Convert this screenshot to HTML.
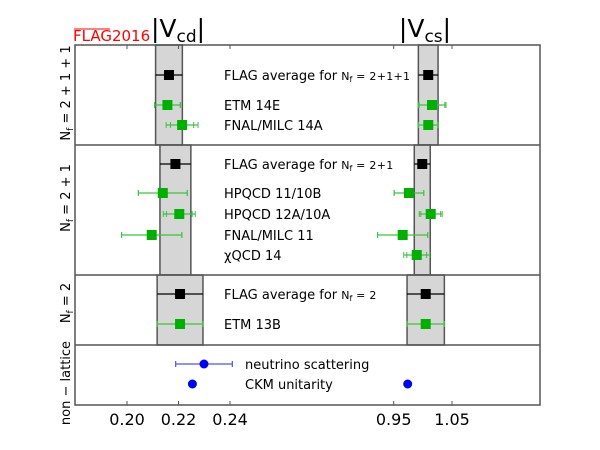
<!DOCTYPE html>
<html><head><meta charset="utf-8"><style>
html,body{margin:0;padding:0;background:#fff}
svg{display:block;font-family:"DejaVu Sans","Liberation Sans",sans-serif}
</style></head><body>
<svg id="chart" width="600" height="450" viewBox="0 0 600 450">
<rect x="0" y="0" width="600" height="450" fill="#fff"/>
<g id="bands"></g>
<g id="marks"></g>
<g id="frame"></g>
<g id="labels"></g>
</svg>
<script>
// ---- data ----
const rowLabels = ["FLAG average for N_f = 2+1+1","ETM 14E","FNAL/MILC 14A","FLAG average for N_f = 2+1","HPQCD 11/10B","HPQCD 12A/10A","FNAL/MILC 11","χQCD 14","FLAG average for N_f = 2","ETM 13B","neutrino scattering","CKM unitarity"];
const rowKind = ["avg","lat","lat","avg","lat","lat","lat","lat","avg","lat","non","non"];
const rowY = [75,105,125,164,193,214,235,255,294,324,364,384];
const vcdVal = [0.2163,0.2157,0.2214,0.2188,0.2139,0.2203,0.2096,null,0.2206,0.2206,0.2299,0.2254];
const vcdTot = [0.0052,0.0050,0.0062,0.0060,0.0095,0.0062,0.0117,null,0.0089,0.0089,0.0110,0];
const vcdStat = [0.0052,0.0050,0.0045,0.0060,0.0095,0.0050,0.0117,null,0.0089,0.0089,0.0110,0];
const vcsVal = [1.0092,1.0157,1.0093,0.9990,0.9762,1.0135,0.9654,0.9895,1.0049,1.0049,null,0.974];
const vcsTot = [0.0169,0.0240,0.0170,0.0137,0.0254,0.0197,0.0430,0.0223,0.0320,0.0320,null,0];
const vcsStat = [0.0169,0.0220,0.0170,0.0137,0.0254,0.0170,0.0430,0.0170,0.0320,0.0320,null,0];
const bandRows = [[0,45,145],[3,145,275],[8,275,345]];
const vcdTicks = [0.20,0.22,0.24];
const vcsTicks = [0.95,1.05];
const vcdTickLabels = ["0.20","0.22","0.24"];
const vcsTickLabels = ["0.95","1.05"];
const groupLabels = ["N_f = 2 + 1 + 1","N_f = 2 + 1","N_f = 2","non − lattice"];
const groupCenters = [93,198,303,383];

// ---- scales ----
const xd = v => 127 + (v-0.20)*2575;
const xs = v => 393.7 + (v-0.95)*583;
const NS="http://www.w3.org/2000/svg";
function mk(tag, attrs, parent){const e=document.createElementNS(NS,tag);for(const k in attrs)e.setAttribute(k,attrs[k]);parent.appendChild(e);return e;}
const gB=document.getElementById('bands'),gM=document.getElementById('marks'),gF=document.getElementById('frame'),gL=document.getElementById('labels');

// bands
bandRows.forEach((b,i)=>{
 const [r,y0,y1]=b;
 [[xd,vcdVal,vcdTot,'vcd'],[xs,vcsVal,vcsTot,'vcs']].forEach(([sc,val,tot,nm])=>{
  const a=sc(val[r]-tot[r]),c=sc(val[r]+tot[r]);
  const el=mk('rect',{x:a,y:y0,width:c-a,height:y1-y0,fill:'#d6d6d6',stroke:'#555','stroke-width':1.5},gB);
  
  
 });
});

// marks
function drawPoint(sc,v,tot,stat,y,kind,nm){
 const col = kind==='avg'?'#000':(kind==='lat'?'#00b000':'#0000ff');
 const lc = kind==='avg'?'#000':(kind==='lat'?'#3cc43c':'#5050ff');
 const g=mk('g',{},gM);
 
 
 if(tot>0){
  mk('line',{x1:sc(v-tot),x2:sc(v+tot),y1:y,y2:y,stroke:lc,'stroke-width':1.3},g);
  if(kind!=='avg'){
   [v-tot,v+tot,v-stat,v+stat].forEach(t=>mk('line',{x1:sc(t),x2:sc(t),y1:y-3,y2:y+3,stroke:lc,'stroke-width':1},g));
  }
 }
 if(kind==='non') mk('circle',{cx:sc(v),cy:y,r:4.5,fill:col},g);
 else mk('rect',{x:sc(v)-5,y:y-5,width:10,height:10,fill:col},g);
}
rowY.forEach((y,i)=>{
 if(vcdVal[i]!==null) drawPoint(xd,vcdVal[i],vcdTot[i],vcdStat[i],y,rowKind[i],'vcd-point-'+i);
 if(vcsVal[i]!==null) drawPoint(xs,vcsVal[i],vcsTot[i],vcsStat[i],y,rowKind[i],'vcs-point-'+i);
 const tx = rowKind[i]==='non'?245:224;
 const t=mk('text',{x:tx,y:y+5,'font-size':13,fill:'#000'},gL);
 
 
 const parts=rowLabels[i].split('N_f');
 t.appendChild(document.createTextNode(parts[0]));
 if(parts.length>1){
  const s1=mk('tspan',{'font-size':11},t);s1.textContent='N';
  const s2=mk('tspan',{'font-size':8,dy:2},t);s2.textContent='f';
  const s3=mk('tspan',{'font-size':11,dy:-2,'letter-spacing':'0.3'},t);s3.textContent=parts[1];
 }
});

// frame
const fr=mk('rect',{x:75,y:45,width:465,height:360,fill:'none',stroke:'#555','stroke-width':1.5},gF);


[145,275,345].forEach((y,i)=>{
 const l=mk('line',{x1:75,x2:540,y1:y,y2:y,stroke:'#555','stroke-width':1.5},gF);
 
 
});
function ticks(arr,labs,sc,nm){
 arr.forEach((v,i)=>{
  const x=sc(v);
  mk('line',{x1:x,x2:x,y1:45,y2:49,stroke:'#555'},gF);
  mk('line',{x1:x,x2:x,y1:405,y2:401,stroke:'#555'},gF);
  const t=mk('text',{x:x,y:425,'font-size':16,'text-anchor':'middle',fill:'#000'},gL);
  
  
  t.textContent=labs[i];
 });
}
ticks(vcdTicks,vcdTickLabels,xd,'vcd');
ticks(vcsTicks,vcsTickLabels,xs,'vcs');

// group labels
groupLabels.forEach((s,i)=>{
 const cy=groupCenters[i];
 const t=mk('text',{x:0,y:0,'font-size':13,'text-anchor':'middle',transform:`translate(70,${cy}) rotate(-90)`,fill:'#000'},gL);
 
 
 if(s.startsWith('N_f')){
  const a=mk('tspan',{},t);a.textContent='N';
  const b=mk('tspan',{'font-size':9,dy:3},t);b.textContent='f';
  const c=mk('tspan',{dy:-3},t);c.textContent=s.slice(3);
 } else t.textContent=s;
});

// titles
function title(x,sub,nm){
 const t=mk('text',{x:x,y:37,'font-size':25,'text-anchor':'middle',fill:'#000'},gL);
 
 
 const a=mk('tspan',{},t);a.textContent='|V';
 const b=mk('tspan',{'font-size':17,dy:5},t);b.textContent=sub;
 const c=mk('tspan',{dy:-5},t);c.textContent='|';
}
title(178,'cd','vcd-title');
title(425,'cs','vcs-title');

// FLAG logo
const lg=mk('text',{x:73,y:41,'font-size':15,fill:'#ff0000'},gL);


lg.textContent='FLAG2016';
const ol=mk('line',{x1:74,x2:110,y1:29,y2:29,stroke:'#ff0000','stroke-width':1},gL);


</script>
</body></html>
